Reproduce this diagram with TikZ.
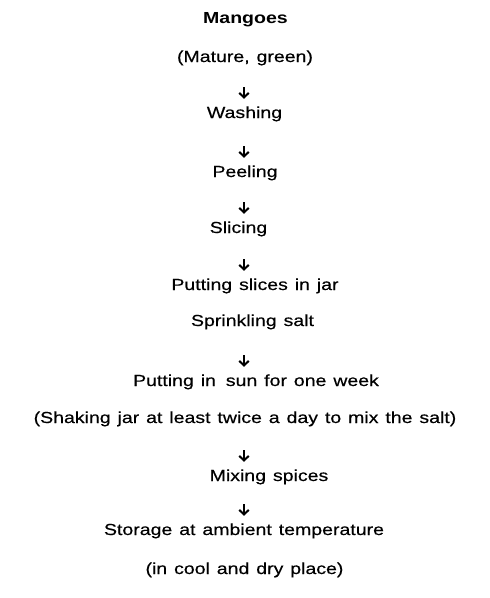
\documentclass[tikz,border=0pt]{standalone}
\usepackage{fontspec}
\setmainfont{Liberation Sans}[FakeStretch=1.22,UprightFeatures={FakeBold=0.4}]
\usetikzlibrary{arrows.meta,calc}
\newcommand{\lblfont}{\fontsize{16}{19}\selectfont\spaceskip=6.9pt\relax}
\begin{document}
\begin{tikzpicture}[x=1pt,y=-1pt,
  lbl/.style={inner sep=0pt,anchor=base,text height=11pt,text depth=3pt,
    font=\lblfont},
  arr/.style={line width=2pt,-{Straight Barb[length=4.5pt,width=9.5pt,line width=2pt]}}]
\useasboundingbox (0,0) rectangle (490,598);
\coordinate (ax) at (244,0);
\node[lbl,font=\lblfont\bfseries] (mango) at (245.5,23) {Mangoes};
\node[lbl] (mature) at (245,62) {(Mature, green)};
\node[lbl] (wash) at (244.5,118) {Washing};
\node[lbl] (peel) at (245,177) {Peeling};
\node[lbl] (slice) at (238.5,233) {Slicing};
\node[lbl] (jar) at (255,290) {Putting slices in jar};
\node[lbl] (salt) at (252.5,326) {Sprinkling salt};
\node[lbl] (sun) at (256,386) {Putting in\hspace{3pt} sun for one week};
\node[lbl] (shake) at (245,423) {(Shaking jar at least twice a day to mix the salt)};
\node[lbl] (spice) at (269,481) {Mixing spices};
\node[lbl] (store) at (244,535) {Storage at ambient temperature};
\node[lbl] (cool) at (244.5,574) {(in cool and dry place)};
\draw[arr,shorten <=22pt] (mature.south -| ax) -- ([yshift=8pt]wash.north -| ax);
\draw[arr,shorten <=25pt] (wash.south -| ax) -- ([yshift=8pt]peel.north -| ax);
\draw[arr,shorten <=22pt] (peel.south -| ax) -- ([yshift=8pt]slice.north -| ax);
\draw[arr,shorten <=23pt] (slice.south -| ax) -- ([yshift=8pt]jar.north -| ax);
\draw[arr,shorten <=26pt] (salt.south -| ax) -- ([yshift=8pt]sun.north -| ax);
\draw[arr,shorten <=24pt] (shake.south -| ax) -- ([yshift=8pt]spice.north -| ax);
\draw[arr,shorten <=20pt] (spice.south -| ax) -- ([yshift=8pt]store.north -| ax);
\end{tikzpicture}
\end{document}
